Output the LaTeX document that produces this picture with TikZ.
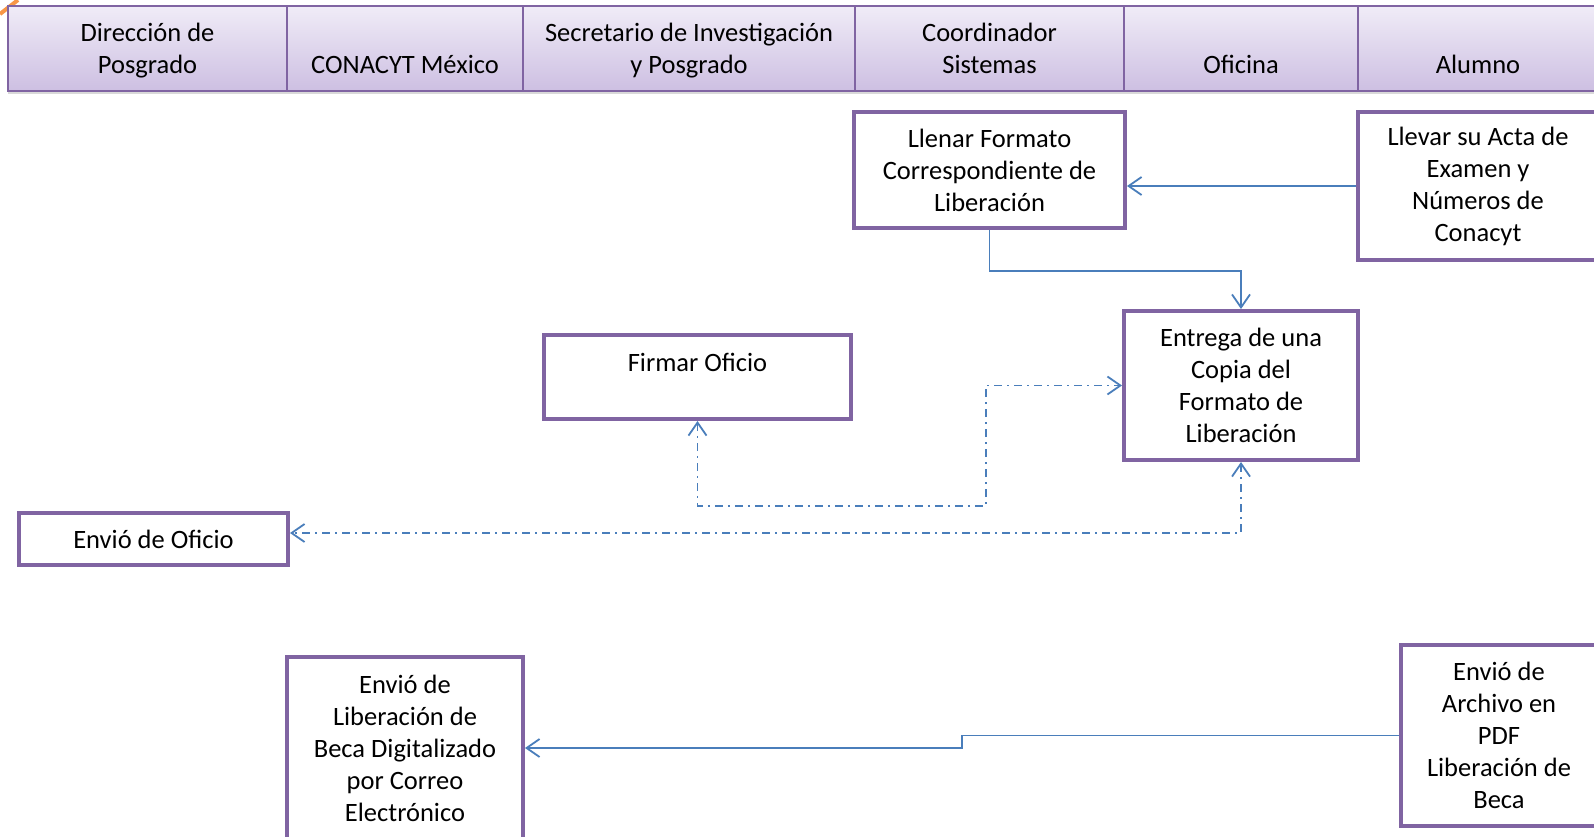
\documentclass[tikz,border=0pt]{standalone}
\usepackage{fontspec}
\setmainfont{Carlito}
\usetikzlibrary{arrows.meta,shadows}
\definecolor{boxpurple}{HTML}{8064A2}
\definecolor{lanetop}{HTML}{F0ECF7}
\definecolor{lanebot}{HTML}{CDBFE2}
\definecolor{linkblue}{HTML}{4A7EBB}
\definecolor{cornerorange}{HTML}{F79646}
\newcommand\lanestrut{\rule{0pt}{28.4pt}}
\begin{document}
\begin{tikzpicture}[x=1pt,y=-1pt,
		>={Straight Barb[length=13pt,width=18pt,line width=1.8pt]},
		every node/.style={font=\fontsize{26.5}{32}\selectfont,align=center,inner sep=0pt},
		lane/.style={draw=boxpurple,line width=1.6pt,top color=lanetop,bottom color=lanebot,minimum height=85pt,drop shadow={shadow xshift=0pt,shadow yshift=-3pt,opacity=.3}},
		task/.style={draw=boxpurple,line width=4pt,fill=white},
		link/.style={linkblue,line width=1.8pt},
		dashdot/.style={dash pattern=on 8pt off 5pt on 2pt off 5pt}]
		\useasboundingbox (0,0) rectangle (1594,837);
		\draw[cornerorange,line width=4pt] (0,14) -- (18,0);
		\node[lane,minimum width=279pt] (hdrDir) at (147.5,48.5) {\lanestrut Dirección de\\Posgrado\strut};
		\node[lane,minimum width=236pt] (hdrConacyt) at (405,48.5) {\lanestrut\\CONACYT México\strut};
		\node[lane,minimum width=332pt] (hdrSecre) at (689,48.5) {\lanestrut Secretario de Investigación\\y Posgrado\strut};
		\node[lane,minimum width=269pt] (hdrCoord) at (989.5,48.5) {\lanestrut Coordinador\\Sistemas\strut};
		\node[lane,minimum width=234pt] (hdrOfic) at (1241,48.5) {\lanestrut\\Oficina\strut};
		\node[lane,minimum width=240pt] (hdrAlum) at (1478,48.5) {\lanestrut\\Alumno\strut};
		\node[task,minimum width=271pt,minimum height=116pt] (llenar) at (989.5,170) {Llenar Formato\\Correspondiente de\\Liberación};
		\node[task,minimum width=240pt,minimum height=148pt] (llevar) at (1478,186) {Llevar su Acta de\\Examen y\\Números de\\Conacyt};
		\node[task,minimum width=234pt,minimum height=149pt] (entrega) at (1241,385.5) {Entrega de una\\Copia del\\Formato de\\Liberación};
		\node[task,minimum width=307pt,minimum height=84pt] (firmar) at (697.5,377) {Firmar Oficio\\[-2pt]\mbox{}};
		\node[task,minimum width=269pt,minimum height=52pt] (oficio) at (153.5,539) {Envió de Oficio};
		\node[task,minimum width=236pt,minimum height=182pt] (liberacion) at (405,748) {Envió de\\Liberación de\\Beca Digitalizado\\por Correo\\Electrónico};
		\node[task,minimum width=196pt,minimum height=181pt] (archivo) at (1499,735.5) {Envió de\\Archivo en\\PDF\\Liberación de\\Beca};
		\coordinate (bendFirmar) at (986,506);
		\coordinate (bendArchivo) at (962,741);
		\draw[link,->] (llevar.west) -- (llevar.west -| llenar.east);
		\draw[link,->] (llenar.south) -- ++(0,41) -| (entrega.north);
		\draw[link,dashdot,<->] (firmar.south) |- (bendFirmar) |- (entrega.west);
		\draw[link,dashdot,<->] (entrega.south) |- ([yshift=6pt]oficio.east);
		\draw[link,->] (archivo.west) -| (bendArchivo) |- (liberacion.east);
\end{tikzpicture}
\end{document}
